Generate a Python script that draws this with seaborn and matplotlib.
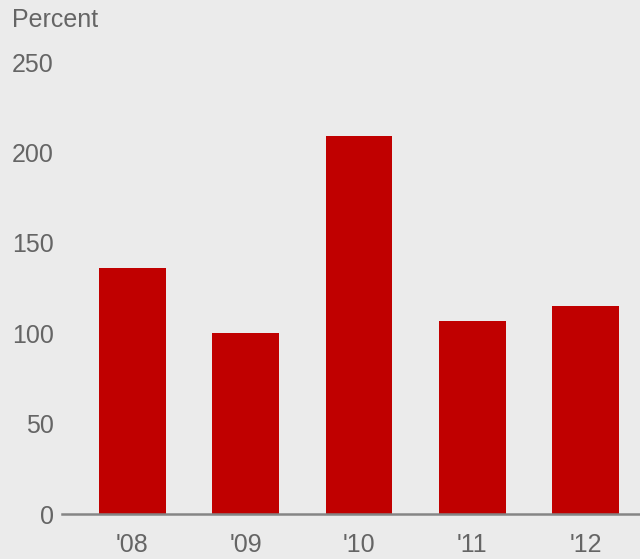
import matplotlib
matplotlib.use("Agg")
import matplotlib.pyplot as plt
import seaborn as sns
import pandas as pd

years = ["'08", "'09", "'10", "'11", "'12"]
percent = [136, 100, 209, 107, 115]
y_ticks = [0, 50, 100, 150, 200, 250]

BG = "#ebebeb"
BAR = "#c00000"
TXT = "#656565"

sns.set_theme(style="white")
plt.rcParams["font.family"] = ["Liberation Sans", "DejaVu Sans"]

df = pd.DataFrame({"year": years, "percent": percent})

fig = plt.figure(figsize=(6.4, 5.59), dpi=100, facecolor=BG)
ax = fig.add_axes([62 / 640, 1 - 514 / 559, 1 - 62 / 640, (514 - 62) / 559])
ax.set_facecolor(BG)

sns.barplot(data=df, x="year", y="percent", color=BAR, saturation=1,
            width=0.59, linewidth=0, edgecolor="none", ax=ax)

ax.set_xlim(-0.62, 4.48)
ax.set_ylim(0, 250)
ax.set_yticks(y_ticks)
ax.set_xlabel("")
ax.set_ylabel("")

for s in ["top", "right", "left"]:
    ax.spines[s].set_visible(False)
ax.spines["bottom"].set_color("#858585")
ax.spines["bottom"].set_linewidth(1.8)

ax.tick_params(axis="both", length=0, labelsize=18, labelcolor=TXT)
ax.tick_params(axis="y", pad=6)
ax.tick_params(axis="x", pad=14)

fig.text(12 / 640, 1 - 20 / 559, "Percent", fontsize=18, color=TXT,
         ha="left", va="center")

fig.savefig("out.png", dpi=100, facecolor=BG)
